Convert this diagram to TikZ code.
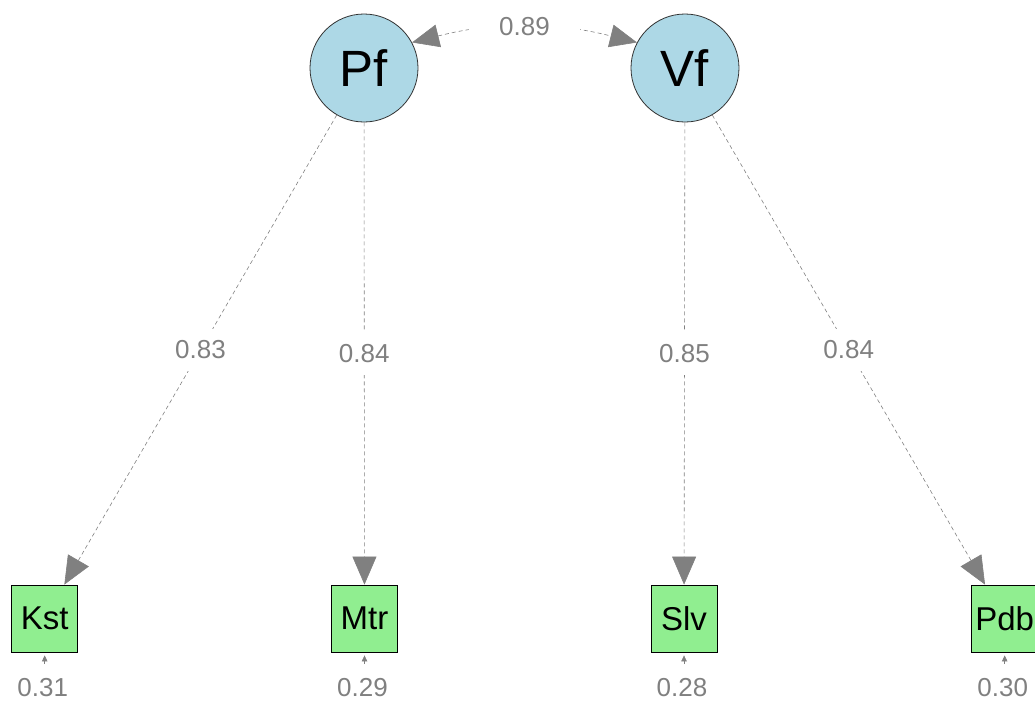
\documentclass[tikz,border=0pt]{standalone}
\usepackage{fontspec}
\setmainfont{Liberation Sans}
\usetikzlibrary{arrows.meta}
\definecolor{latfill}{HTML}{ADD8E6}
\definecolor{manfill}{HTML}{90EE90}
\definecolor{pathgray}{HTML}{808080}
\begin{document}
\begin{tikzpicture}[x=1pt,y=-1pt,
  latent/.style={circle,draw=black!80,line width=0.8pt,fill=latfill,minimum size=108pt,inner sep=0pt,
    font=\fontsize{51}{51}\selectfont},
  manifest/.style={rectangle,draw=black,line width=0.8pt,fill=manfill,minimum width=66pt,minimum height=67pt,inner sep=0pt,
    font=\fontsize{33}{33}\selectfont},
  load/.style={draw=pathgray,line width=0.6pt,dash pattern=on 4pt off 3pt,
    -{Triangle[length=28pt,width=24pt]},arrows={[fill=pathgray]}},
  covar/.style={draw=pathgray,line width=0.6pt,dash pattern=on 4pt off 3pt,
    {Triangle[length=27pt,width=23pt]}-{Triangle[length=27pt,width=23pt]}},
  resid/.style={draw=pathgray,line width=0.6pt,-{Triangle[length=6pt,width=5.5pt]},shorten >=3pt},
  lbl/.style={text=pathgray,fill=white,inner xsep=5pt,inner ysep=12pt,font=\fontsize{26}{26}\selectfont},
  covlbl/.style={lbl,inner xsep=30pt,inner ysep=6pt},
  rlbl/.style={text=pathgray,inner sep=0pt,font=\fontsize{26}{26}\selectfont}]
\useasboundingbox (0,0) rectangle (1035,702);

% latent factors
\node[latent] (Pf) at (364,68) {Pf};
\node[latent] (Vf) at (685,68) {Vf};

% indicators
\node[manifest] (Kst) at (44.7,618.5) {Kst};
\node[manifest] (Mtr) at (364.5,618.5) {Mtr};
\node[manifest] (Slv) at (684,618.5) {Slv};
\node[manifest] (Pdb) at (1004.7,618.5) {Pdb};

% factor loadings
\draw[load] (Pf) -- node[lbl] {0.83} (Kst);
\draw[load] (Pf) -- node[lbl] {0.84} (Mtr);
\draw[load] (Vf) -- node[lbl] {0.85} (Slv);
\draw[load] (Vf) -- node[lbl] {0.84} (Pdb);

% factor covariance
\draw[covar] (Pf.28) to[out=14,in=166] node[covlbl] {0.89} (Vf.152);

% residual variances
\foreach \n/\x/\v in {Kst/44.7/0.31, Mtr/364.5/0.29, Slv/684/0.28, Pdb/1004.7/0.30}{
  \coordinate (r\n) at (\x,664);
  \draw[resid] (r\n) -- (\n);
  \node[rlbl] (l\n) at (\x-2,688) {\v};
}
\end{tikzpicture}
\end{document}
